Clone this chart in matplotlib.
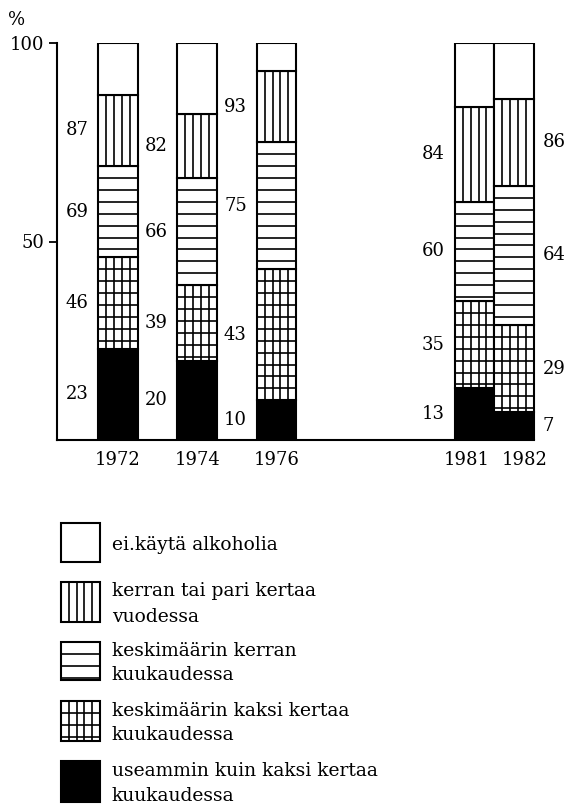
import numpy as np
import matplotlib.pyplot as plt
from matplotlib.patches import Rectangle

plt.rcParams['font.family'] = ['DejaVu Serif']

# cumulative percentages, from the bottom of each bar upwards
years = [1972, 1974, 1976, 1981, 1982]
useammin = [23, 20, 10, 13, 7]      # useammin kuin kaksi kertaa kuukaudessa
kaksi_kk = [46, 39, 43, 35, 29]     # keskimaarin kaksi kertaa kuukaudessa
kerran_kk = [69, 66, 75, 60, 64]    # keskimaarin kerran kuukaudessa
kerran_v = [87, 82, 93, 84, 86]     # kerran tai pari kertaa vuodessa
kaikki = [100, 100, 100, 100, 100]  # ei kayta alkoholia (top)
label_side = ['left', 'left', 'left', 'left', 'right']
year_shift = [0, 0, 0, -0.2, 0.26]  # 1981 and 1982 labels pushed apart

legend_labels = ["ei.käytä alkoholia",
                 "kerran tai pari kertaa\nvuodessa",
                 "keskimäärin kerran\nkuukaudessa",
                 "keskimäärin kaksi kertaa\nkuukaudessa",
                 "useammin kuin kaksi kertaa\nkuukaudessa"]

levels = [useammin, kaksi_kk, kerran_kk, kerran_v, kaikki]
kinds = ['black', 'grid', 'horiz', 'vert', 'white']

W, H, DPI = 571, 807, 100
fig = plt.figure(figsize=(W / DPI, H / DPI), dpi=DPI)


def px_axes(l, b, r, t):
    return fig.add_axes([l / W, 1 - b / H, (r - l) / W, (b - t) / H])


def segment(ax, x0, x1, y0, y1, kind, step, lw=1.5, hlw=1.2):
    # y1 is the visual top of the box, hatch rows start from there
    fc = 'black' if kind == 'black' else 'white'
    ax.add_patch(Rectangle((x0, y0), x1 - x0, y1 - y0, facecolor=fc,
                           edgecolor='black', lw=lw, zorder=2))
    if kind in ('vert', 'grid'):
        xs = np.linspace(x0, x1, 6)[1:-1]
        ax.vlines(xs, y0, y1, color='black', lw=hlw, zorder=3)
    if kind in ('horiz', 'grid'):
        span = y1 - y0
        k = np.arange(1, int(abs(span) / step - 0.15) + 1)
        ys = y1 - np.sign(span) * step * k
        ax.hlines(ys, x0, x1, color='black', lw=hlw, zorder=3)


# legend drawn in pixel coordinates
lax = fig.add_axes([0, 0, 1, 1])
lax.set_xlim(0, W)
lax.set_ylim(H, 0)
lax.axis('off')
box_y = [(523, 562), (582, 622), (642, 680), (701, 741), (761, 802)]
leg_kinds = ['white', 'vert', 'horiz', 'grid', 'black']
for (t, b), kind, lab in zip(box_y, leg_kinds, legend_labels):
    segment(lax, 61, 100, b, t, kind, 12)
    lax.text(112, (t + b) / 2 + 2, lab, ha='left', va='center',
             fontsize=13.5, linespacing=1.5)

ax = px_axes(57, 440, 538, 43)
ax.set_xlim(1970.46, 1982.6)
ax.set_ylim(0, 100)
bw = 1.0

for i, yr in enumerate(years):
    prev = 0
    for lev, kind in zip(levels, kinds):
        segment(ax, yr - bw / 2, yr + bw / 2, prev, lev[i], kind, 3.0)
        prev = lev[i]
    prev = 0
    for lev in levels[:-1]:
        ymid = (prev + lev[i]) / 2
        if label_side[i] == 'left':
            ax.text(yr - bw / 2 - 0.25, ymid, str(lev[i]), ha='right',
                    va='center', fontsize=13)
        else:
            ax.text(yr + bw / 2 + 0.22, ymid, str(lev[i]), ha='left',
                    va='center', fontsize=13)
        prev = lev[i]
    ax.text(yr + year_shift[i], -5, str(yr), ha='center', va='center',
            fontsize=13)

ax.spines['top'].set_visible(False)
ax.spines['right'].set_visible(False)
ax.spines['left'].set_bounds(0, 100)
ax.spines['bottom'].set_bounds(1970.46, 1982.5)
for s in ('left', 'bottom'):
    ax.spines[s].set_linewidth(1.5)
ax.set_yticks([50, 100])
ax.set_yticklabels(['50', '100'])
ax.set_xticks([])
ax.tick_params(axis='y', length=6, width=1.3, pad=3, labelsize=13)
ax.set_facecolor('none')

fig.text(8 / W, 1 - 20 / H, '%', ha='left', va='center', fontsize=13)

fig.savefig('out.png', dpi=DPI)
